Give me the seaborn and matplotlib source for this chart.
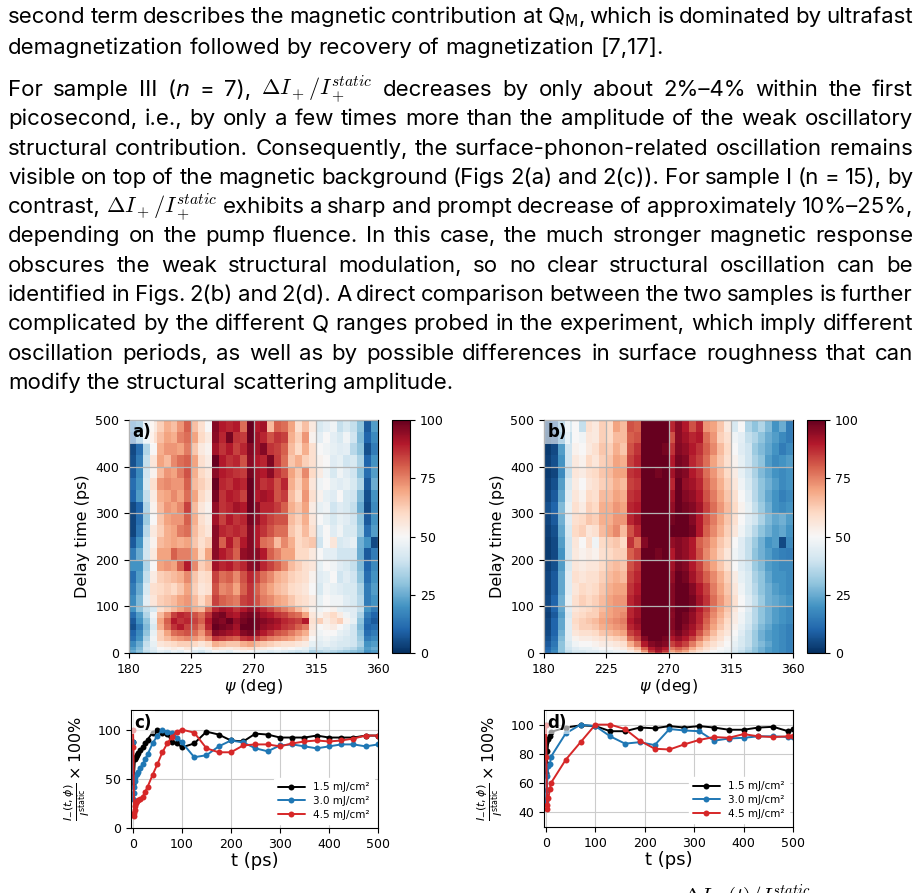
import re
import numpy as np
import pandas as pd
import matplotlib
matplotlib.use("Agg")
import matplotlib.pyplot as plt
import seaborn as sns

W, H = 920, 893

# ---- page text ----
text_lines = [
    r"second term describes the magnetic contribution at Q$_\mathrm{M}$, which is dominated by ultrafast",
    "demagnetization followed by recovery of magnetization [7,17].",
    r"For sample III ($n$ = 7), $\Delta I_+/I_+^{static}$ decreases by only about 2%–4% within the first",
    "picosecond, i.e., by only a few times more than the amplitude of the weak oscillatory",
    "structural contribution. Consequently, the surface-phonon-related oscillation remains",
    "visible on top of the magnetic background (Figs 2(a) and 2(c)). For sample I (n = 15), by",
    r"contrast, $\Delta I_+/I_+^{static}$ exhibits a sharp and prompt decrease of approximately 10%–25%,",
    "depending on the pump fluence. In this case, the much stronger magnetic response",
    "obscures the weak structural modulation, so no clear structural oscillation can be",
    "identified in Figs. 2(b) and 2(d). A direct comparison between the two samples is further",
    "complicated by the different Q ranges probed in the experiment, which imply different",
    "oscillation periods, as well as by possible differences in surface roughness that can",
    "modify the structural scattering amplitude.",
]
text_justified = [True, False, True, True, True, True, True, True, True, True, True, True, False]
text_baseline = [23, 53.5, 96, 125.3, 154.6, 183.9, 213.2, 242.5, 271.8, 301.1, 330.4, 359.7, 389]

# ---- heatmaps (rows from 500 ps down to 0 ps, columns 180..360 deg in 5 deg steps) ----
psi_edges = list(range(180, 361, 5))
delay_edges = [500, 475, 450, 425, 400, 375, 350, 325, 300, 275, 250, 225, 200, 175, 150, 125,
               100, 87.5, 75, 62.5, 50, 37.5, 25, 12.5, 6, 3, 0]

map_a = [
    [15, 20, 40, 55, 62, 68, 65, 72, 80, 65, 58, 50, 96, 90, 88, 90, 78, 100, 90, 92, 66, 80, 78, 70, 58, 65, 55, 42, 45, 48, 38, 42, 38, 30, 8, 22],
    [10, 25, 42, 58, 65, 70, 68, 75, 78, 70, 60, 55, 95, 88, 98, 86, 85, 100, 92, 88, 82, 86, 84, 68, 62, 72, 52, 45, 50, 45, 42, 48, 40, 28, 10, 18],
    [5, 12, 35, 50, 68, 72, 72, 70, 76, 64, 55, 52, 92, 86, 90, 84, 88, 96, 92, 96, 86, 84, 80, 66, 60, 68, 58, 50, 48, 46, 44, 45, 36, 30, 6, 15],
    [6, 15, 38, 56, 70, 66, 74, 78, 80, 70, 58, 54, 100, 90, 86, 88, 82, 95, 90, 88, 97, 85, 78, 64, 68, 62, 58, 52, 50, 44, 46, 40, 42, 34, 10, 20],
    [8, 18, 40, 52, 66, 72, 70, 76, 82, 68, 60, 56, 95, 90, 88, 86, 85, 98, 92, 90, 95, 86, 82, 70, 64, 74, 60, 54, 48, 42, 48, 44, 40, 30, 12, 22],
    [12, 20, 42, 58, 72, 74, 72, 72, 80, 66, 62, 58, 100, 88, 86, 90, 88, 100, 92, 86, 88, 82, 88, 68, 62, 70, 56, 48, 50, 46, 44, 46, 42, 35, 8, 25],
    [10, 22, 38, 54, 68, 70, 74, 70, 78, 70, 60, 55, 98, 86, 90, 88, 84, 100, 90, 92, 90, 82, 85, 66, 60, 72, 58, 52, 46, 44, 50, 42, 40, 28, 6, 20],
    [5, 10, 35, 52, 66, 72, 70, 74, 84, 66, 56, 52, 94, 86, 88, 92, 90, 100, 95, 88, 88, 85, 80, 68, 64, 70, 54, 46, 48, 40, 44, 42, 38, 25, 5, 18],
    [4, 12, 32, 50, 64, 70, 72, 72, 80, 68, 58, 54, 92, 84, 90, 86, 88, 98, 94, 88, 84, 82, 82, 66, 62, 68, 56, 50, 46, 42, 46, 44, 40, 30, 8, 20],
    [4, 14, 36, 55, 62, 68, 70, 76, 78, 66, 60, 56, 95, 88, 86, 88, 86, 96, 90, 86, 82, 78, 78, 64, 60, 66, 58, 44, 50, 44, 48, 42, 42, 32, 12, 22],
    [8, 20, 40, 52, 66, 68, 70, 68, 70, 64, 58, 62, 95, 80, 90, 82, 90, 96, 90, 78, 76, 66, 74, 68, 60, 62, 64, 40, 50, 56, 42, 44, 46, 26, 20, 5],
    [15, 25, 40, 55, 70, 70, 80, 75, 75, 70, 60, 70, 95, 90, 86, 80, 94, 96, 95, 90, 80, 75, 70, 70, 60, 60, 55, 50, 45, 45, 40, 40, 40, 25, 8, 15],
    [20, 20, 35, 50, 70, 72, 70, 80, 90, 74, 62, 66, 92, 88, 90, 85, 88, 95, 96, 88, 84, 80, 74, 66, 62, 58, 56, 46, 50, 48, 44, 42, 38, 28, 10, 18],
    [12, 22, 38, 54, 62, 64, 66, 68, 74, 64, 58, 60, 84, 78, 80, 74, 82, 88, 84, 78, 74, 68, 66, 62, 60, 58, 52, 44, 46, 50, 40, 44, 40, 30, 12, 20],
    [15, 25, 42, 58, 60, 62, 60, 64, 70, 62, 56, 58, 82, 74, 76, 70, 80, 86, 80, 74, 70, 66, 64, 60, 58, 56, 50, 42, 48, 46, 44, 42, 42, 34, 15, 22],
    [18, 28, 45, 56, 62, 64, 66, 70, 72, 66, 60, 66, 84, 80, 78, 76, 84, 86, 82, 76, 74, 70, 68, 64, 60, 58, 54, 46, 50, 48, 48, 44, 42, 36, 15, 20],
    [20, 30, 38, 42, 58, 62, 66, 70, 74, 68, 66, 78, 88, 92, 90, 86, 90, 94, 92, 88, 84, 80, 76, 72, 66, 60, 52, 48, 50, 52, 46, 44, 44, 38, 20, 15],
    [12, 22, 35, 48, 66, 74, 84, 88, 86, 82, 78, 86, 96, 98, 92, 90, 96, 98, 96, 92, 90, 86, 84, 80, 78, 70, 56, 52, 56, 60, 54, 48, 44, 34, 15, 10],
    [8, 20, 30, 45, 70, 80, 90, 86, 88, 84, 80, 90, 98, 96, 100, 94, 98, 100, 98, 96, 94, 92, 88, 86, 84, 90, 58, 62, 54, 58, 62, 52, 46, 30, 12, 8],
    [6, 15, 28, 42, 68, 78, 86, 90, 84, 82, 76, 88, 100, 98, 96, 92, 100, 100, 98, 94, 92, 90, 86, 84, 80, 76, 56, 50, 52, 54, 50, 46, 40, 28, 10, 12],
    [10, 18, 30, 46, 62, 70, 78, 80, 82, 78, 72, 82, 96, 94, 92, 90, 96, 98, 94, 90, 86, 82, 80, 76, 72, 68, 54, 48, 50, 50, 46, 44, 40, 30, 12, 15],
    [12, 20, 34, 48, 62, 66, 70, 72, 74, 72, 68, 74, 86, 84, 82, 80, 86, 88, 84, 80, 76, 74, 72, 70, 66, 62, 50, 46, 48, 46, 44, 42, 40, 32, 15, 18],
    [18, 25, 38, 46, 56, 58, 60, 62, 62, 60, 56, 60, 68, 66, 64, 64, 68, 70, 66, 64, 62, 60, 58, 58, 56, 54, 46, 44, 46, 44, 42, 42, 40, 34, 20, 22],
    [22, 28, 40, 44, 50, 52, 54, 52, 56, 50, 48, 52, 58, 55, 54, 56, 58, 60, 56, 54, 52, 50, 52, 50, 48, 46, 40, 42, 40, 42, 40, 38, 36, 30, 22, 25],
    [25, 30, 38, 42, 46, 44, 48, 46, 50, 44, 42, 46, 50, 48, 46, 50, 52, 50, 48, 46, 44, 46, 44, 42, 40, 42, 34, 36, 38, 36, 34, 32, 30, 28, 20, 22],
    [20, 25, 32, 36, 40, 38, 42, 40, 44, 40, 36, 40, 44, 42, 40, 44, 46, 44, 42, 40, 38, 40, 38, 36, 34, 36, 30, 30, 32, 30, 28, 28, 26, 24, 15, 18],
]

map_b = [
    [3, 8, 25, 42, 50, 38, 58, 55, 62, 60, 70, 66, 82, 80, 100, 100, 100, 100, 88, 95, 90, 82, 88, 72, 70, 64, 55, 42, 50, 35, 30, 35, 28, 20, 25, 15],
    [2, 5, 20, 38, 50, 48, 56, 55, 62, 60, 66, 66, 80, 82, 100, 100, 100, 100, 82, 95, 92, 88, 90, 78, 72, 62, 58, 48, 45, 38, 35, 30, 25, 22, 18, 15],
    [2, 5, 22, 40, 52, 50, 55, 58, 64, 62, 68, 64, 82, 86, 100, 100, 100, 98, 86, 96, 94, 90, 86, 80, 74, 66, 60, 50, 44, 40, 32, 28, 24, 20, 15, 18],
    [3, 6, 20, 40, 55, 52, 60, 56, 62, 64, 70, 68, 84, 88, 100, 100, 100, 100, 90, 98, 96, 88, 84, 78, 70, 64, 58, 52, 46, 40, 34, 30, 22, 18, 20, 22],
    [2, 4, 18, 38, 56, 54, 58, 60, 64, 66, 70, 70, 86, 88, 100, 100, 98, 100, 92, 98, 96, 90, 86, 78, 72, 66, 60, 54, 46, 40, 34, 28, 24, 20, 18, 20],
    [3, 6, 22, 42, 54, 50, 56, 58, 62, 64, 68, 66, 84, 86, 100, 100, 100, 100, 88, 100, 94, 92, 88, 80, 74, 68, 62, 56, 48, 42, 36, 30, 26, 22, 18, 20],
    [4, 8, 24, 44, 56, 52, 60, 58, 66, 66, 70, 68, 86, 88, 100, 100, 100, 100, 92, 100, 96, 94, 90, 82, 76, 70, 64, 58, 50, 44, 36, 30, 24, 20, 16, 18],
    [6, 10, 28, 46, 58, 54, 62, 60, 68, 68, 72, 70, 88, 90, 100, 100, 100, 100, 94, 100, 98, 96, 92, 84, 78, 72, 66, 60, 52, 46, 38, 32, 26, 20, 18, 20],
    [4, 8, 26, 44, 58, 60, 64, 62, 68, 68, 72, 72, 88, 92, 100, 100, 100, 100, 98, 100, 100, 96, 90, 82, 76, 70, 64, 58, 50, 44, 40, 34, 28, 24, 26, 22],
    [3, 6, 24, 42, 60, 62, 56, 58, 66, 70, 74, 66, 82, 88, 100, 100, 100, 100, 100, 100, 100, 98, 90, 80, 74, 68, 62, 56, 48, 42, 36, 30, 26, 22, 24, 20],
    [2, 5, 22, 40, 56, 50, 58, 48, 60, 62, 64, 60, 86, 78, 96, 100, 100, 100, 94, 96, 94, 90, 80, 76, 70, 64, 60, 50, 44, 38, 32, 26, 20, 22, 5, 18],
    [2, 5, 20, 40, 55, 52, 54, 52, 58, 60, 62, 62, 80, 84, 100, 100, 98, 100, 90, 96, 94, 90, 82, 74, 68, 62, 56, 48, 44, 38, 30, 26, 22, 18, 16, 15],
    [3, 6, 22, 42, 56, 54, 56, 56, 60, 64, 66, 64, 82, 86, 100, 100, 100, 100, 92, 98, 96, 90, 84, 76, 70, 64, 58, 50, 44, 40, 32, 28, 22, 20, 18, 18],
    [4, 8, 24, 44, 58, 56, 58, 58, 62, 66, 68, 66, 84, 88, 100, 100, 100, 100, 94, 100, 98, 92, 86, 80, 74, 68, 62, 54, 46, 42, 34, 30, 24, 20, 20, 18],
    [4, 8, 24, 44, 56, 60, 58, 60, 64, 68, 70, 70, 86, 90, 100, 100, 100, 100, 96, 100, 100, 96, 90, 84, 76, 70, 64, 56, 48, 42, 36, 30, 26, 22, 20, 18],
    [5, 10, 26, 46, 58, 62, 60, 62, 66, 70, 72, 72, 88, 92, 100, 100, 100, 100, 96, 100, 100, 98, 92, 86, 78, 72, 66, 58, 50, 44, 38, 32, 26, 24, 22, 20],
    [4, 10, 24, 44, 56, 58, 60, 62, 66, 70, 72, 72, 88, 92, 100, 100, 100, 100, 96, 100, 100, 96, 90, 84, 76, 70, 64, 56, 50, 44, 36, 30, 26, 22, 20, 18],
    [3, 8, 22, 42, 58, 60, 62, 62, 68, 70, 72, 74, 88, 92, 100, 100, 100, 100, 95, 100, 98, 94, 88, 82, 74, 68, 62, 54, 48, 42, 36, 30, 26, 22, 20, 18],
    [4, 10, 24, 44, 60, 62, 64, 66, 70, 72, 74, 76, 90, 94, 100, 100, 100, 100, 96, 100, 98, 94, 88, 80, 72, 66, 60, 54, 48, 42, 36, 30, 26, 22, 20, 18],
    [4, 10, 24, 44, 58, 62, 62, 64, 68, 70, 72, 74, 88, 92, 100, 100, 100, 100, 96, 100, 96, 92, 86, 78, 70, 64, 58, 52, 46, 40, 34, 28, 24, 20, 18, 16],
    [5, 10, 26, 44, 56, 58, 58, 60, 64, 66, 68, 70, 84, 88, 100, 100, 100, 100, 94, 98, 94, 90, 82, 74, 66, 60, 56, 50, 44, 38, 32, 26, 22, 20, 18, 16],
    [6, 12, 28, 44, 52, 54, 54, 56, 58, 60, 62, 64, 78, 84, 96, 100, 100, 98, 90, 94, 90, 84, 76, 68, 62, 58, 52, 48, 42, 38, 32, 26, 22, 20, 18, 16],
    [8, 14, 30, 42, 48, 50, 50, 52, 54, 54, 56, 58, 68, 76, 90, 96, 98, 96, 84, 88, 84, 76, 68, 62, 58, 54, 50, 46, 42, 38, 32, 28, 24, 20, 18, 16],
    [10, 16, 30, 40, 44, 46, 46, 48, 50, 50, 52, 54, 60, 66, 80, 90, 94, 90, 76, 80, 76, 68, 62, 58, 54, 50, 48, 44, 40, 36, 30, 26, 22, 20, 18, 16],
    [12, 18, 30, 38, 42, 42, 44, 44, 46, 46, 48, 48, 54, 60, 72, 86, 92, 86, 70, 74, 70, 62, 58, 54, 50, 48, 46, 42, 38, 34, 30, 26, 22, 20, 18, 16],
    [10, 15, 26, 34, 38, 38, 40, 40, 42, 42, 44, 44, 48, 52, 62, 80, 88, 80, 62, 66, 62, 56, 52, 48, 46, 44, 42, 38, 34, 30, 28, 24, 20, 18, 16, 14],
]

# ---- line plots ----
fluence_labels = ["1.5 mJ/cm²", "3.0 mJ/cm²", "4.5 mJ/cm²"]
fluence_colors = ["#000000", "#1f77b4", "#d62728"]

c_t_15 = [0, 1, 2, 4, 6, 8, 10, 15, 20, 25, 30, 40, 50, 60, 70, 80, 90, 100, 125, 150, 175, 200,
          225, 250, 275, 300, 325, 350, 375, 400, 425, 450, 475, 500]
c_v_15 = [87, 45, 53, 70, 72, 74, 76, 79, 82, 86, 90, 97, 100, 97, 96, 87, 86, 82, 86, 98, 95, 89,
          88, 96, 95, 92, 92, 92, 94, 92, 92, 92, 94, 94]
c_t_30 = [0, 1, 2, 3, 4, 5, 8, 10, 15, 20, 25, 30, 40, 50, 60, 70, 80, 90, 100, 125, 150, 175,
          200, 225, 250, 275, 300, 325, 350, 375, 400, 425, 450, 475, 500]
c_v_30 = [87, 30, 36, 42, 48, 52, 55, 57, 61, 65, 70, 75, 86, 94, 100, 98, 97, 92, 87, 72, 74, 83,
          89, 87, 81, 78, 84, 85, 83, 81, 83, 85, 85, 83, 85]
c_t_45 = [0, 1, 2, 3, 4, 5, 6, 8, 10, 15, 20, 25, 30, 40, 50, 60, 70, 80, 90, 100, 125, 150,
          175, 200, 225, 250, 275, 300, 325, 350, 375, 400, 425, 450, 475, 500]
c_v_45 = [100, 82, 15, 12, 18, 22, 25, 27, 28, 30, 32, 37, 42, 54, 65, 77, 86, 93, 98, 100, 97, 81,
          77, 77, 84, 85, 85, 83, 86, 88, 89, 88, 89, 91, 94, 94]

d_t = [0, 1, 2, 3, 5, 8, 10, 40, 70, 100, 130, 160, 190, 220, 250, 280, 310, 340, 370, 400, 430,
       460, 490, 500]
d_v_15 = [88, 67, 73, 82, 90, 92, 95, 98, 99.5, 99, 95.5, 95.5, 98, 97.5, 99, 98, 99, 98, 96.5,
          96.5, 98, 98.5, 95.5, 97]
d_v_30 = [100, 48, 55, 65, 72, 73, 78, 94, 100, 99, 92, 87, 88, 86, 97, 96, 95.5, 89, 90.5, 91,
          92, 92, 91.5, 91.5]
d_v_45 = [100, 78, 42, 45, 50, 56, 60, 76, 88, 100, 100, 97, 89, 83.5, 83, 86.5, 89.5, 91.5, 91,
          93.5, 92, 91.5, 92, 92]

sns.set_style("ticks")
plt.rcParams["font.family"] = ["DejaVu Sans"]
plt.rcParams.update({"text.color": "black", "axes.labelcolor": "black",
                     "xtick.color": "black", "ytick.color": "black",
                     "axes.edgecolor": "black"})

fig = plt.figure(figsize=(W / 100, H / 100), dpi=100)
fig.patch.set_facecolor("white")


def ax_box(x0, y0, x1, y1):
    # pixel box of the screenshot -> figure fraction
    return [x0 / W, 1 - y1 / H, (x1 - x0) / W, (y1 - y0) / H]


# ---- body text, justified by hand ----
renderer = fig.canvas.get_renderer()
X0, X1 = 8, 913
FS = 16
BODY_FONT = "Inter"


def draw_line(s, base, justify):
    words = re.findall(r"[^\s$]*\$[^$]*\$[^\s$]*|\S+", s)
    size = FS
    while True:
        arts = []
        for w in words:
            mf = "cm" if "static" in w else "dejavusans"
            arts.append(fig.text(0, 1 - base / H, w, fontsize=size, family=BODY_FONT,
                                 color="black", va="baseline", ha="left", math_fontfamily=mf))
        widths = [a.get_window_extent(renderer).width for a in arts]
        space = 0.27 * size * 100 / 72
        if justify:
            gap = (X1 - X0 - sum(widths)) / (len(words) - 1)
        else:
            gap = space
        if gap >= 0.6 * space or size < 11:
            break
        for a in arts:
            a.remove()
        size -= 0.2
    x = X0
    for a, w in zip(arts, widths):
        a.set_x(x / W)
        x += w + gap


for s, b, j in zip(text_lines, text_baseline, text_justified):
    draw_line(s, b, j)

# top of the next (cut) line
fig.text(683 / W, 1 - 904 / H, r"$\Delta I_+(t)/I_+^{static}$", fontsize=15,
         math_fontfamily="cm", va="baseline")


# ---- heatmaps ----
def heat_panel(data, box, cbox, tag):
    ax = fig.add_axes(ax_box(*box))
    cax = fig.add_axes(ax_box(*cbox))
    mesh = ax.pcolormesh(psi_edges, delay_edges, np.array(data), cmap="RdBu_r",
                         vmin=0, vmax=100, shading="flat")
    ax.set_xlim(180, 360)
    ax.set_ylim(0, 500)
    ax.set_xticks([180, 225, 270, 315, 360])
    ax.set_yticks([0, 100, 200, 300, 400, 500])
    ax.grid(True, color="#b4b4b4", lw=0.9)
    ax.set_axisbelow(False)
    ax.tick_params(labelsize=9, length=3.5)
    ax.set_xlabel(r"$\psi$ (deg)", fontsize=11.5, labelpad=1)
    ax.set_ylabel("Delay time (ps)", fontsize=11.5)
    ax.text(0.015, 0.985, tag, transform=ax.transAxes, fontsize=12, fontweight="bold",
            va="top", ha="left",
            bbox=dict(facecolor="white", alpha=0.6, edgecolor="none", pad=2))
    cb = fig.colorbar(mesh, cax=cax, ticks=[0, 25, 50, 75, 100])
    cb.ax.tick_params(labelsize=9, length=3.5)
    return ax


heat_panel(map_a, (129, 420, 378, 653), (392, 420, 410, 653), "a)")
heat_panel(map_b, (544, 420, 793, 653), (807, 420, 825, 653), "b)")


# ---- time traces ----
def long_df(ts, vs):
    rows = []
    for lab, t, v in zip(fluence_labels, ts, vs):
        rows += [(lab, a, b) for a, b in zip(t, v)]
    return pd.DataFrame(rows, columns=["fluence", "t", "val"])


def trace_panel(df, box, ylim, yticks, tag):
    ax = fig.add_axes(ax_box(*box))
    sns.lineplot(data=df, x="t", y="val", hue="fluence", hue_order=fluence_labels,
                 palette=fluence_colors, marker="o", markersize=4.3, markeredgewidth=0,
                 linewidth=1.4, estimator=None, errorbar=None, ax=ax)
    ax.set_xlim(-4, 500)
    ax.set_ylim(*ylim)
    ax.set_xticks([0, 100, 200, 300, 400, 500])
    ax.set_yticks(yticks)
    ax.grid(True, color="#cccccc", lw=0.8)
    ax.tick_params(labelsize=9, length=3.5)
    ax.set_xlabel("t (ps)", fontsize=13, labelpad=1)
    ax.set_ylabel(r"$\frac{I_{-}(t,\phi)}{I^{\mathrm{static}}}\times 100\%$", fontsize=11.5)
    ax.legend(loc="lower right", fontsize=7.5, frameon=True, framealpha=1,
              edgecolor="white", handlelength=2.6, borderaxespad=0.4, labelspacing=0.35)
    ax.text(0.015, 0.97, tag, transform=ax.transAxes, fontsize=12, fontweight="bold",
            va="top", ha="left",
            bbox=dict(facecolor="white", alpha=0.6, edgecolor="none", pad=2))
    return ax


df_c = long_df([c_t_15, c_t_30, c_t_45], [c_v_15, c_v_30, c_v_45])
df_d = long_df([d_t, d_t, d_t], [d_v_15, d_v_30, d_v_45])
trace_panel(df_c, (131, 710, 378, 828), (0, 120), [0, 50, 100], "c)")
trace_panel(df_d, (544, 710, 793, 827), (30, 110), [40, 60, 80, 100], "d)")

fig.savefig("out.png", dpi=100, facecolor="white")
